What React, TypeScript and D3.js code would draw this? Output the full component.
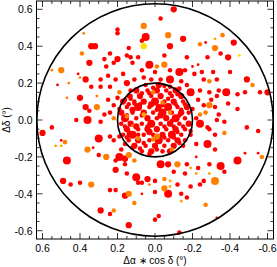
import React from "react";
import * as d3 from "d3";

// [dx, dy, size class, tone]  dx = delta alpha * cos delta, dy = delta delta (deg)
const fieldStars = [
  [0.38,0.47,1,1],[0.20,0.49,2,0],[0.20,0.47,2,0],[0.34,0.40,3,0],[0.32,0.40,3,0],[0.39,0.36,2,1],
  [0.24,0.36,2,0],[0.27,0.33,2,0],[0.20,0.33,3,0],[0.14,0.39,2,0],[0.13,0.34,2,0],[0.35,0.31,3,0],
  [0.22,0.31,2,0],[0.26,0.29,2,0],[0.12,0.31,2,0],[0.50,0.27,3,1],[0.55,0.27,1,1],[0.41,0.25,1,0],
  [0.37,0.22,3,0],[0.40,0.23,1,1],[0.46,0.20,1,1],[0.52,0.19,1,0],[0.29,0.22,2,0],[0.25,0.24,2,0],
  [0.21,0.22,2,0],[0.17,0.25,2,0],[0.15,0.20,3,0],[0.11,0.22,2,0],[0.29,0.18,2,0],[0.24,0.18,2,0],
  [0.34,0.18,2,0],[0.19,0.15,2,1],[0.20,0.12,2,0],[0.47,0.12,1,1],[0.40,0.12,3,0],[0.31,0.13,1,1],
  [0.25,0.11,2,0],[0.22,0.08,2,0],[0.37,0.07,3,0],[0.31,0.07,3,1],[0.35,0.05,2,0],[0.24,0.04,2,0],
  [0.27,0.03,2,0],[0.42,0.00,2,0],[0.36,0.00,4,0],[0.29,-0.01,2,0],[0.22,0.01,2,1],[0.15,0.02,2,1],
  [0.12,0.05,2,0],[0.55,-0.04,2,0],[0.60,-0.07,3,0],[0.11,0.09,2,0],[0.13,0.13,2,0],[0.16,0.11,2,0],
  [0.15,0.35,2,0],[0.09,0.34,2,0],
  [-0.10,0.60,3,0],[-0.03,0.55,2,0],[0.06,0.51,3,1],[0.05,0.45,4,0],[0.07,0.43,2,0],[0.06,0.40,3,3],
  [-0.07,0.46,3,1],[-0.08,0.40,3,0],[-0.15,0.44,3,0],[-0.24,0.41,2,1],[-0.27,0.42,1,0],[-0.32,0.44,1,2],
  [-0.36,0.46,2,1],[-0.32,0.39,3,1],[-0.35,0.36,2,0],[-0.42,0.42,3,0],[-0.45,0.35,1,3],[-0.39,0.34,3,0],
  [-0.05,0.35,2,0],[-0.17,0.34,2,0],[-0.28,0.34,2,0],[0.03,0.30,4,0],[-0.01,0.29,2,1],[-0.05,0.30,3,1],
  [0.07,0.27,2,0],[0.00,0.26,2,0],[-0.08,0.27,2,0],[-0.13,0.26,4,0],[-0.16,0.27,2,0],[-0.20,0.29,1,0],
  [-0.23,0.30,1,0],[-0.21,0.25,2,0],[-0.25,0.26,2,0],[-0.31,0.26,2,0],[-0.26,0.22,2,0],[-0.29,0.21,2,1],
  [-0.33,0.22,2,0],[-0.40,0.26,2,0],[0.06,0.23,2,0],[0.02,0.22,2,0],[-0.03,0.22,2,0],[-0.08,0.22,4,0],
  [-0.14,0.21,2,0],[-0.17,0.19,2,0],[-0.19,0.15,4,0],[-0.24,0.16,2,0],[-0.29,0.15,2,0],[-0.34,0.16,2,0],
  [-0.38,0.15,4,0],[-0.49,0.22,3,0],[-0.52,0.19,2,1],[-0.56,0.15,2,0],[-0.60,0.15,3,0],[-0.48,0.15,2,0],
  [-0.44,0.14,2,0],[-0.30,0.11,2,0],[-0.33,0.13,2,0],[-0.39,0.09,2,0],[-0.23,0.11,2,0],[-0.26,0.08,2,0],
  [-0.29,0.08,3,1],[-0.32,0.07,2,0],[-0.34,0.03,2,0],[-0.44,0.06,2,0],[-0.24,0.03,2,1],[-0.22,0.01,2,0],
  [-0.27,0.04,2,1],[-0.20,0.06,2,0],[-0.37,-0.01,2,0],[-0.33,0.00,2,0],[-0.28,-0.04,2,0],[-0.24,-0.02,4,0],
  [-0.49,-0.04,2,0],[-0.55,-0.06,2,0],
  [0.50,-0.11,1,0],[0.48,-0.12,2,1],[0.53,-0.14,1,2],[0.50,-0.14,1,2],[0.30,-0.10,4,0],[0.24,-0.09,2,0],
  [0.22,-0.11,2,0],[0.19,-0.09,2,0],[0.14,-0.08,2,0],[0.36,-0.16,3,1],[0.33,-0.15,1,0],[0.30,-0.19,2,0],
  [0.26,-0.20,3,1],[0.19,-0.20,4,0],[0.14,-0.19,3,1],[0.18,-0.16,2,0],[0.12,-0.15,2,0],[0.47,-0.22,4,0],
  [0.21,-0.22,2,0],[0.16,-0.21,3,0],[0.11,-0.22,2,1],[0.16,-0.24,2,0],[0.21,-0.27,3,0],[0.15,-0.29,2,0],
  [0.10,-0.31,4,0],[0.49,-0.33,3,0],[0.45,-0.35,2,0],[0.40,-0.34,2,0],[0.34,-0.35,3,1],[0.24,-0.38,2,0],
  [0.21,-0.38,2,0],[0.14,-0.40,3,1],[0.16,-0.41,3,0],[0.11,-0.45,2,1],[0.29,-0.49,3,0],[0.22,-0.49,2,1],
  [0.24,-0.51,2,0],[0.14,-0.57,3,0],[0.09,-0.34,2,0],[0.03,-0.35,1,1],[0.04,-0.32,3,0],
  [-0.32,-0.08,2,0],[-0.37,-0.07,2,1],[-0.19,-0.08,2,0],[-0.22,-0.13,2,0],[-0.28,-0.13,4,0],[-0.32,-0.16,2,0],
  [-0.44,-0.22,4,0],[-0.48,-0.18,1,0],[-0.55,-0.18,1,0],[-0.57,-0.20,2,1],[-0.03,-0.24,4,0],[-0.07,-0.24,3,0],
  [-0.12,-0.24,3,1],[-0.17,-0.24,2,0],[-0.19,-0.26,1,2],[-0.23,-0.26,2,0],[-0.29,-0.24,2,0],[-0.35,-0.25,4,0],
  [-0.37,-0.28,2,0],[-0.22,-0.29,1,2],[-0.29,-0.29,1,2],[-0.10,-0.28,2,0],[-0.16,-0.29,2,0],[-0.32,-0.33,4,1],
  [-0.26,-0.33,2,0],[-0.24,-0.35,2,0],[-0.19,-0.36,2,0],[-0.12,-0.35,2,0],[-0.05,-0.32,2,1],[0.00,-0.33,2,0],
  [0.07,-0.34,2,0],[-0.08,-0.33,1,2],[-0.08,-0.36,1,2],[0.00,-0.39,2,0],[-0.07,-0.40,4,0],[-0.05,-0.37,3,1],
  [-0.14,-0.40,2,0],[0.07,-0.40,1,0],[-0.17,-0.42,2,0],[-0.14,-0.44,1,2],[-0.27,-0.46,2,1],[-0.02,-0.52,2,0],
  [0.00,-0.54,2,0],[-0.13,-0.61,2,0],[-0.33,-0.53,1,0],[-0.29,-0.05,2,0],[-0.22,-0.20,1,0],
];

const coreStars = [
  [0.05,0.19,2,0],[-0.02,0.19,3,0],[-0.08,0.18,2,0],
  [0.10,0.16,3,0],[0.04,0.16,2,0],[-0.01,0.16,3,0],[-0.06,0.16,2,0],[-0.11,0.16,3,0],
  [0.14,0.13,2,0],[0.08,0.13,3,0],[0.02,0.13,2,0],[-0.03,0.13,3,0],[-0.09,0.13,2,0],[-0.14,0.13,3,0],
  [0.17,0.10,3,0],[0.11,0.10,2,0],[0.06,0.10,3,0],[0.00,0.10,4,0],[-0.05,0.10,2,0],[-0.10,0.10,3,0],[-0.15,0.10,2,0],
  [0.15,0.07,2,0],[0.09,0.07,4,0],[0.03,0.07,2,0],[-0.02,0.07,3,0],[-0.07,0.07,4,0],[-0.12,0.07,2,0],[-0.17,0.07,3,0],
  [0.18,0.04,3,0],[0.12,0.04,2,0],[0.06,0.04,3,0],[0.01,0.04,2,0],[-0.04,0.04,4,0],[-0.09,0.04,2,0],[-0.14,0.04,3,0],[-0.18,0.04,2,0],
  [0.16,0.01,4,0],[0.10,0.01,2,0],[0.04,0.01,3,0],[-0.01,0.01,2,0],[-0.06,0.01,3,0],[-0.11,0.01,4,0],[-0.16,0.01,2,0],
  [0.18,-0.02,2,0],[0.13,-0.02,3,0],[0.07,-0.02,2,0],[0.02,-0.02,4,0],[-0.03,-0.02,2,0],[-0.08,-0.02,3,0],[-0.13,-0.02,2,0],[-0.18,-0.02,3,0],
  [0.15,-0.05,3,0],[0.09,-0.05,2,0],[0.04,-0.05,3,0],[-0.01,-0.05,3,0],[-0.06,-0.05,2,0],[-0.11,-0.05,3,0],[-0.16,-0.05,2,0],
  [0.17,-0.08,2,0],[0.12,-0.08,4,0],[0.06,-0.08,2,0],[0.01,-0.08,2,0],[-0.04,-0.08,3,0],[-0.09,-0.08,4,0],[-0.14,-0.08,2,0],
  [0.14,-0.11,2,0],[0.09,-0.11,3,0],[0.03,-0.11,2,0],[-0.02,-0.11,4,0],[-0.07,-0.11,2,0],[-0.12,-0.11,3,0],[-0.16,-0.11,2,0],
  [0.11,-0.14,3,0],[0.05,-0.14,2,0],[0.00,-0.14,3,0],[-0.05,-0.14,2,0],[-0.10,-0.14,3,0],
  [0.07,-0.17,2,0],[0.02,-0.17,3,0],[-0.04,-0.17,2,0],[-0.08,-0.17,3,0],
  [0.13,0.115,2,0],[0.03,0.145,2,0],[-0.07,0.115,2,0],[0.12,0.055,3,0],[-0.01,0.055,2,0],[-0.14,0.055,2,0],
  [0.07,0.025,2,0],[-0.09,-0.005,2,0],[0.10,-0.035,3,0],[-0.05,-0.035,2,0],[0.14,-0.065,2,0],[0.03,-0.065,3,0],
  [-0.12,-0.065,2,0],[0.06,-0.125,2,0],[-0.05,-0.095,2,0],[0.08,0.085,2,0],[-0.11,0.085,2,0],
  [0.16,-0.13,2,0],[-0.15,-0.14,2,0],[0.13,0.16,2,0],[-0.13,0.17,2,0],[0.19,0.06,2,0],[-0.19,-0.06,2,0],
  [0.01,0.175,2,0],[-0.05,0.185,2,0],[0.07,0.145,2,0],[-0.08,0.145,2,0],[-0.12,0.14,2,0],
  [0.14,0.085,2,0],[0.02,0.085,3,0],[-0.04,0.08,2,0],[-0.16,0.085,2,0],
  [0.15,0.025,2,0],[-0.03,0.025,3,0],[-0.13,0.025,2,0],
  [0.16,-0.035,2,0],[0.04,-0.035,2,0],[-0.10,-0.035,2,0],[-0.15,-0.035,2,0],
  [0.09,-0.08,2,0],[-0.10,-0.095,2,0],[0.15,-0.095,2,0],
  [0.08,-0.155,2,0],[-0.01,-0.16,2,0],[-0.13,-0.125,2,0],[0.03,-0.185,2,0],
  [0.09,-0.10,2,1],[-0.04,0.095,2,1],[-0.08,0.04,2,1],[-0.01,-0.09,3,1],[-0.09,-0.16,2,1],[0.01,0.15,2,1],
  [0.01,-0.105,2,1],[0.06,0.03,2,2],[0.12,-0.03,1,1],
];

const ringRadii = [0.63, 0.2];
const majorTicks = [-0.6, -0.4, -0.2, 0.0, 0.2, 0.4, 0.6];
const tickLabels = ["-0.6", "-0.4", "-0.2", "0.0", "0.2", "0.4", "0.6"];
const toneColors = ["#ff0000", "#ff8000", "#ffa500", "#ffdc00"];

const W = 277;
const H = 267;
const left = 36.5, right = 273.5, top = 1, bottom = 239;

export default function App() {
  const x = d3.scaleLinear().domain([0.632, -0.632]).range([left, right]);
  const y = d3.scaleLinear().domain([-0.645, 0.645]).range([bottom, top]);
  const r = d3.scaleLinear().domain([1, 4]).range([1.4, 4.0]);
  const color = d3.scaleOrdinal<number, string>().domain([0, 1, 2, 3]).range(toneColors);

  const stars = [...fieldStars, ...coreStars].slice().sort((a, b) => a[3] - b[3]);
  const minorTicks = d3.range(-0.6, 0.601, 0.05).filter(
    (v) => !majorTicks.some((m) => Math.abs(m - v) < 1e-6)
  );
  const font = "'Liberation Sans', Arial, Helvetica, sans-serif";

  return (
    <svg width={W} height={H} style={{ position: "absolute", left: 0, top: 0, background: "#fff" }}>
      <g>
        {stars.map((s, i) => (
          <circle key={i} cx={x(s[0])} cy={y(s[1])} r={r(s[2])} fill={color(s[3])} />
        ))}
      </g>
      <g fill="none" stroke="#000" strokeWidth={1.6}>
        {ringRadii.map((rad) => (
          <ellipse key={rad} cx={x(0)} cy={y(0)} rx={x(0) - x(rad)} ry={y(0) - y(rad)} />
        ))}
      </g>
      <g stroke="#000" strokeWidth={0.8}>
        {majorTicks.map((t) => (
          <g key={"M" + t}>
            <line x1={x(t)} x2={x(t)} y1={bottom} y2={bottom - 6} />
            <line x1={x(t)} x2={x(t)} y1={top} y2={top + 6} />
            <line x1={left} x2={left + 6} y1={y(t)} y2={y(t)} />
            <line x1={right} x2={right - 6} y1={y(t)} y2={y(t)} />
          </g>
        ))}
        {minorTicks.map((t) => (
          <g key={"m" + t}>
            <line x1={x(t)} x2={x(t)} y1={bottom} y2={bottom - 3} />
            <line x1={x(t)} x2={x(t)} y1={top} y2={top + 3} />
            <line x1={left} x2={left + 3} y1={y(t)} y2={y(t)} />
            <line x1={right} x2={right - 3} y1={y(t)} y2={y(t)} />
          </g>
        ))}
      </g>
      <rect x={left} y={top} width={right - left} height={bottom - top} fill="none" stroke="#000" strokeWidth={1} />
      <g fontFamily={font} fill="#000">
        {majorTicks.map((t, i) => (
          <text key={"x" + t} x={x(t)} y={bottom + 13} fontSize={10.5} textAnchor="middle">{tickLabels[i]}</text>
        ))}
        {majorTicks.map((t, i) => (
          <text key={"y" + t} x={left - 4} y={y(t) + 4} fontSize={10.5} textAnchor="end">{tickLabels[i]}</text>
        ))}
        <text x={x(0)} y={H - 3} fontSize={10} textAnchor="middle">Δα ∗ cos δ (°)</text>
        <text transform={`translate(9.5,${y(0)}) rotate(-90)`} fontSize={10} textAnchor="middle">Δδ (°)</text>
      </g>
    </svg>
  );
}
